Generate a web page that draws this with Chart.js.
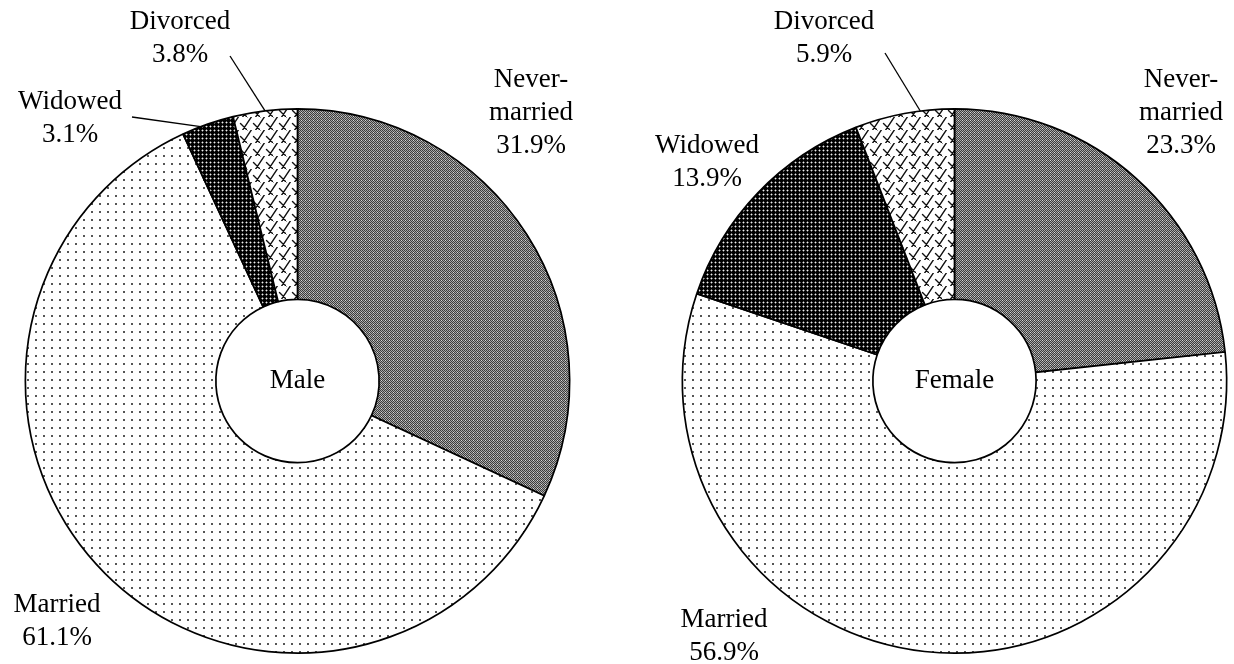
<!DOCTYPE html>
<html>
<head>
<meta charset="utf-8">
<script src="https://cdn.jsdelivr.net/npm/chart.js@4/dist/chart.umd.min.js"></script>
<style>
    body { margin: 0; background: #fff; }
    #wrap { position: relative; width: 1234px; height: 664px; }
    canvas { position: absolute; top: 0; }
    #male { left: 0; }
    #female { left: 617px; }
</style>
</head>
<body>
<div id="wrap">
    <canvas id="male" width="617" height="664"></canvas>
    <canvas id="female" width="617" height="664"></canvas>
</div>
<script>
// data
const categories = ['Never-married', 'Married', 'Widowed', 'Divorced'];
const maleValues = [31.9, 61.1, 3.1, 3.8];
const femaleValues = [23.3, 56.9, 13.9, 5.9];
const maleLabels = [['Never-', 'married', '31.9%'], ['Married', '61.1%'], ['Widowed', '3.1%'], ['Divorced', '3.8%']];
const femaleLabels = [['Never-', 'married', '23.3%'], ['Married', '56.9%'], ['Widowed', '13.9%'], ['Divorced', '5.9%']];

const FONT = '27px "Liberation Serif", "Times New Roman", serif';

function makeTile(size, draw) {
    const c = document.createElement('canvas');
    c.width = size;
    c.height = size;
    const g = c.getContext('2d');
    draw(g, size);
    return document.createElement('canvas').getContext('2d').createPattern(c, 'repeat');
}

// fine checker (never-married)
const checker = makeTile(4, (g) => {
    g.fillStyle = '#a8a8a8';
    g.fillRect(0, 0, 4, 4);
    g.fillStyle = '#3c3c3c';
    g.fillRect(0, 0, 1, 1);
    g.fillRect(2, 0, 1, 1);
    g.fillRect(1, 1, 1, 1);
    g.fillRect(3, 1, 1, 1);
    g.fillRect(0, 2, 1, 1);
    g.fillRect(2, 2, 1, 1);
    g.fillRect(1, 3, 1, 1);
    g.fillRect(3, 3, 1, 1);
    g.fillStyle = '#d8d8d8';
    g.fillRect(1, 0, 1, 1);
});

// sparse dots (married)
const sparseDots = makeTile(8, (g) => {
    g.fillStyle = '#fff';
    g.fillRect(0, 0, 8, 8);
    g.fillStyle = '#555';
    g.fillRect(3, 3, 2, 2);
});

// black with light dots (widowed)
const darkDots = makeTile(4, (g) => {
    g.fillStyle = '#000';
    g.fillRect(0, 0, 4, 4);
    g.fillStyle = '#666';
    g.fillRect(1, 2, 3, 1);
    g.fillRect(2, 1, 1, 3);
    g.fillStyle = '#eee';
    g.fillRect(2, 2, 1, 1);
});

// diagonal brick (divorced)
const brick = makeTile(13, (g, T) => {
    g.fillStyle = '#fff';
    g.fillRect(0, 0, T, T);
    g.strokeStyle = '#111';
    g.lineWidth = 1.4;
    g.lineCap = 'round';
    g.beginPath();
    [0, T, 2 * T].forEach(k => {
        g.moveTo(k - T, T + T);
        g.lineTo(k + T, 0 - T);
    });
    g.moveTo(T / 2, T / 2); g.lineTo(T, T);
    g.moveTo(-T / 2, -T / 2); g.lineTo(0, 0);
    g.moveTo(T / 2 + T, T / 2 - T); g.lineTo(2 * T, 0);
    g.moveTo(T / 2 - T, T / 2 + T); g.lineTo(0, 2 * T);
    g.stroke();
});

const fills = [checker, sparseDots, darkDots, brick];

const labelPlugin = {
    id: 'sliceLabels',
    afterDraw(chart, args, opts) {
        const ctx = chart.ctx;
        const arcs = chart.getDatasetMeta(0).data;
        ctx.save();
        ctx.font = FONT;
        ctx.fillStyle = '#000';
        ctx.textAlign = 'center';
        ctx.textBaseline = 'middle';

        // centre title
        const a0 = arcs[0];
        ctx.fillText(opts.title, a0.x, a0.y);

        opts.items.forEach((it, i) => {
            const lines = opts.texts[i];
            lines.forEach((t, j) => ctx.fillText(t, it.x, it.y + j * 33));
            if (it.leader) {
                const arc = arcs[i];
                const ang = arc.startAngle + (arc.endAngle - arc.startAngle) * it.leader.t;
                const ex = arc.x + Math.cos(ang) * arc.outerRadius;
                const ey = arc.y + Math.sin(ang) * arc.outerRadius;
                ctx.beginPath();
                ctx.lineWidth = 1.3;
                ctx.strokeStyle = '#000';
                ctx.moveTo(it.leader.x, it.leader.y);
                ctx.lineTo(ex, ey);
                ctx.stroke();
            }
        });
        ctx.restore();
    }
};

function makeChart(id, values, texts, title, padding, items) {
    return new Chart(document.getElementById(id), {
        type: 'doughnut',
        data: {
            labels: categories,
            datasets: [{
                data: values,
                backgroundColor: fills,
                borderColor: '#000',
                borderWidth: 1.7
            }]
        },
        options: {
            responsive: false,
            animation: false,
            devicePixelRatio: 1,
            cutout: '30%',
            layout: { padding: padding },
            plugins: {
                legend: { display: false },
                tooltip: { enabled: false },
                sliceLabels: { title: title, texts: texts, items: items }
            }
        },
        plugins: [labelPlugin]
    });
}

makeChart('male', maleValues, maleLabels, 'Male',
    { left: 24, right: 46, top: 108, bottom: 10 },
    [
        { x: 531, y: 80 },
        { x: 57, y: 605 },
        { x: 70, y: 102, leader: { x: 132, y: 117, t: 0.36 } },
        { x: 180, y: 22, leader: { x: 230, y: 56, t: 0.5 } }
    ]);

makeChart('female', femaleValues, femaleLabels, 'Female',
    { left: 64, right: 6, top: 108, bottom: 10 },
    [
        { x: 564, y: 80 },
        { x: 107, y: 620 },
        { x: 90, y: 146 },
        { x: 207, y: 22, leader: { x: 268, y: 53, t: 0.66 } }
    ]);
</script>
</body>
</html>
